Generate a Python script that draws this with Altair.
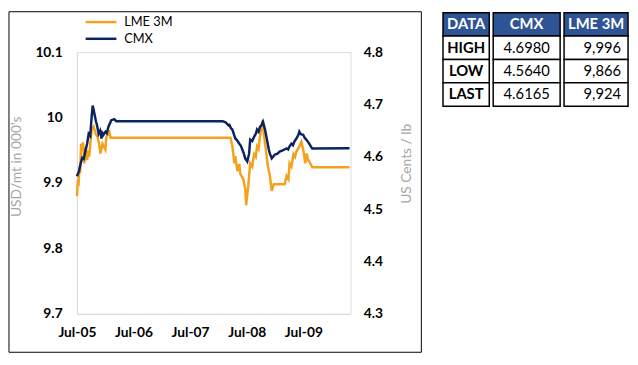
import altair as alt
import pandas as pd

# ---------------- data ----------------
cmx_dates = [
    "2005-07-01", "2005-07-14", "2005-07-26", "2005-08-05", "2005-08-14",
    "2005-08-27", "2005-09-05", "2005-09-15", "2005-09-25", "2005-10-04",
    "2005-10-11", "2005-10-17", "2005-10-23", "2005-11-01", "2005-11-08",
    "2005-11-18", "2005-11-28", "2005-12-07", "2005-12-13", "2005-12-19",
    "2006-01-01", "2006-01-10", "2006-01-20", "2006-02-08", "2006-02-27",
    "2006-03-12", "2008-01-27", "2008-02-15", "2008-03-05", "2008-03-11",
    "2008-03-22", "2008-03-30", "2008-04-08", "2008-04-18", "2008-04-28",
    "2008-05-14", "2008-05-24", "2008-06-02", "2008-06-12", "2008-06-21",
    "2008-07-04", "2008-07-16", "2008-07-23", "2008-08-05", "2008-08-17",
    "2008-08-28", "2008-09-05", "2008-09-15", "2008-09-24", "2008-10-03",
    "2008-10-13", "2008-10-26", "2008-11-08", "2008-11-20", "2008-11-27",
    "2008-12-09", "2008-12-28", "2009-01-15", "2009-01-29", "2009-02-14",
    "2009-03-02", "2009-03-15", "2009-03-25", "2009-04-03", "2009-04-15",
    "2009-04-25", "2009-05-04", "2009-05-15", "2009-05-30", "2009-06-05",
    "2009-06-15", "2009-06-30", "2009-07-10", "2009-07-20", "2009-08-01",
    "2009-08-08", "2009-08-18", "2009-08-27", "2010-04-25",
]
cmx_values = [
    4.563, 4.572, 4.588, 4.598, 4.596,
    4.614, 4.625, 4.644, 4.640, 4.676,
    4.698, 4.690, 4.681, 4.668, 4.660,
    4.644, 4.650, 4.635, 4.645, 4.642,
    4.648, 4.645, 4.657, 4.670, 4.672,
    4.668, 4.668, 4.666, 4.660, 4.661,
    4.654, 4.652, 4.644, 4.635, 4.632,
    4.625, 4.621, 4.614, 4.606, 4.597,
    4.591, 4.606, 4.633, 4.630, 4.638,
    4.644, 4.652, 4.648, 4.657, 4.660,
    4.667, 4.653, 4.633, 4.614, 4.606,
    4.597, 4.604, 4.606, 4.610, 4.612,
    4.614, 4.616, 4.614, 4.620, 4.625,
    4.622, 4.629, 4.634, 4.642, 4.648,
    4.643, 4.642, 4.636, 4.633, 4.628,
    4.625, 4.620, 4.616, 4.6165,
]

lme_dates = [
    "2005-07-01", "2005-07-08", "2005-07-11", "2005-07-18", "2005-07-22",
    "2005-07-28", "2005-08-03", "2005-08-09", "2005-08-18", "2005-08-27",
    "2005-09-05", "2005-09-12", "2005-09-18", "2005-09-28", "2005-10-04",
    "2005-10-17", "2005-10-30", "2005-11-11", "2005-11-24", "2005-11-30",
    "2005-12-13", "2006-01-01", "2006-01-07", "2006-01-27", "2006-02-03",
    "2008-03-18", "2008-03-30", "2008-04-12", "2008-04-18", "2008-05-01",
    "2008-05-14", "2008-05-20", "2008-06-08", "2008-06-21", "2008-06-27",
    "2008-07-10", "2008-07-23", "2008-08-05", "2008-08-17", "2008-08-28",
    "2008-09-05", "2008-09-15", "2008-09-24", "2008-10-13", "2008-10-19",
    "2008-11-01", "2008-11-14", "2008-11-27", "2008-12-09", "2008-12-22",
    "2009-03-02", "2009-03-15", "2009-03-27", "2009-04-03", "2009-04-15",
    "2009-04-28", "2009-05-08", "2009-05-17", "2009-06-05", "2009-06-18",
    "2009-06-30", "2009-07-13", "2009-07-22", "2009-08-01", "2009-08-08",
    "2009-08-27", "2010-04-25",
]
lme_values = [
    9.880, 9.905, 9.895, 9.925, 9.915,
    9.960, 9.950, 9.962, 9.930, 9.955,
    9.935, 9.950, 9.940, 9.966, 9.981,
    9.986, 9.975, 9.971, 9.956, 9.945,
    9.960, 9.951, 9.971, 9.978, 9.969,
    9.969, 9.956, 9.930, 9.941, 9.918,
    9.929, 9.914, 9.906, 9.891, 9.866,
    9.895, 9.930, 9.925, 9.944, 9.940,
    9.956, 9.952, 9.971, 9.996, 9.975,
    9.951, 9.926, 9.911, 9.888, 9.898,
    9.898, 9.911, 9.906, 9.930, 9.925,
    9.944, 9.940, 9.948, 9.956, 9.963,
    9.951, 9.930, 9.945, 9.935, 9.933,
    9.924, 9.924,
]

tick_years = [2005, 2006, 2007, 2008, 2009]
left_ticks = [9.7, 9.8, 9.9, 10.0, 10.1]
right_ticks = [4.3, 4.4, 4.5, 4.6, 4.7, 4.8]
series_names = ["LME 3M", "CMX"]

table_header = ["DATA", "CMX", "LME 3M"]
table_rows = ["HIGH", "LOW", "LAST"]
cmx_stats = ["4.6980", "4.5640", "4.6165"]
lme_stats = ["9,996", "9,866", "9,924"]

# ---------------- styles ----------------
ORANGE = "#F4A11C"
NAVY = "#0A2362"
HEAD = "#2F5496"
AXIS_GRAY = "#D9D9D9"
TITLE_GRAY = "#A6A6A6"
FONT = "Lato"

lme_df = pd.DataFrame({"date": lme_dates, "value": lme_values, "series": series_names[0]})
cmx_df = pd.DataFrame({"date": cmx_dates, "value": cmx_values, "series": series_names[1]})

color = alt.Color(
    "series:N",
    scale=alt.Scale(domain=series_names, range=[ORANGE, NAVY]),
    legend=alt.Legend(
        title=None, orient="none", legendX=18, legendY=-37,
        symbolType="M-5,0H5", symbolSize=39, symbolStrokeWidth=2.5,
        labelFont=FONT, labelFontSize=13, labelColor="#000000",
        rowPadding=3, labelOffset=17, padding=0,
    ),
)

x_enc = alt.X(
    "date:T",
    scale=alt.Scale(
        type="utc", nice=False,
        domain=[alt.DateTime(year=2005, month=7, date=1, utc=True),
                alt.DateTime(year=2010, month=5, date=1, utc=True)],
    ),
    axis=alt.Axis(
        title=None, orient="bottom",
        values=[alt.DateTime(year=y, month=7, date=1, utc=True) for y in tick_years],
        format="%b-%y", grid=False, ticks=False, domainColor=AXIS_GRAY,
        labelFont=FONT, labelFontSize=14, labelFontWeight="bold", labelColor="#000000",
        labelPadding=12, labelOverlap=False, labelFlush=False,
    ),
)

border = alt.Chart(pd.DataFrame({"k": [0]})).mark_rect(
    fillOpacity=0, stroke="#000000", strokeWidth=1
).encode(
    x=alt.value(-69), x2=alt.value(350), y=alt.value(-41), y2=alt.value(305)
)

lme_line = alt.Chart(lme_df).mark_line(strokeWidth=2.5).encode(
    x=x_enc,
    y=alt.Y(
        "value:Q",
        scale=alt.Scale(domain=[9.7, 10.1], nice=False, zero=False),
        axis=alt.Axis(
            orient="left", title="USD/mt in 000's", values=left_ticks, format=".1~f",
            grid=False, ticks=False, domainColor=AXIS_GRAY,
            labelFont=FONT, labelFontSize=14, labelFontWeight="bold", labelColor="#000000",
            labelPadding=15,
            titleFont=FONT, titleFontSize=14, titleFontWeight="normal", titleColor=TITLE_GRAY,
            titleAngle=-90, titleX=-61, titleY=116, titleAlign="center", titleBaseline="middle",
        ),
    ),
    color=color,
)

cmx_line = alt.Chart(cmx_df).mark_line(strokeWidth=2.5).encode(
    x=x_enc,
    y=alt.Y(
        "value:Q",
        scale=alt.Scale(domain=[4.3, 4.8], nice=False, zero=False),
        axis=alt.Axis(
            orient="right", title="US Cents / lb", values=right_ticks, format=".1f",
            grid=False, ticks=False, domain=False,
            labelFont=FONT, labelFontSize=14, labelFontWeight="bold", labelColor="#000000",
            labelPadding=13,
            titleFont=FONT, titleFontSize=14, titleFontWeight="normal", titleColor=TITLE_GRAY,
            titleAngle=-90, titleX=57, titleY=113, titleAlign="center", titleBaseline="middle",
        ),
    ),
    color=color,
)

main = alt.layer(border, lme_line, cmx_line).resolve_scale(y="independent").properties(
    width=278, height=266
)


def table_column(header, cells, width, align, bold):
    df = pd.DataFrame({
        "row": ["head"] + table_rows,
        "text": [header] + cells,
        "kind": ["head", "cell", "cell", "cell"],
    })
    y = alt.Y("row:N", sort=["head"] + table_rows, axis=None,
              scale=alt.Scale(paddingInner=0, paddingOuter=0, range=[-40, 55]))
    rect = alt.Chart(df).mark_rect(stroke="#000000", strokeWidth=1.5).encode(
        x=alt.value(0), x2=alt.value(width), y=y,
        fill=alt.Fill("kind:N", scale=alt.Scale(domain=["head", "cell"], range=[HEAD, "#FFFFFF"]),
                      legend=None),
    )
    head_txt = alt.Chart(df).transform_filter("datum.kind == 'head'").mark_text(
        font=FONT, fontSize=15, fontWeight="bold", color="#FFFFFF"
    ).encode(y=y, text="text:N")
    if align == "right":
        cell_txt = alt.Chart(df).transform_filter("datum.kind == 'cell'").mark_text(
            font=FONT, fontSize=15, fontWeight="bold" if bold else "normal",
            color="#000000", align="right"
        ).encode(x=alt.value(width - 7), y=y, text="text:N")
    else:
        cell_txt = alt.Chart(df).transform_filter("datum.kind == 'cell'").mark_text(
            font=FONT, fontSize=15, fontWeight="bold" if bold else "normal",
            color="#000000", align="center"
        ).encode(y=y, text="text:N")
    return alt.layer(rect, head_txt, cell_txt).properties(width=width, height=55)


table = alt.hconcat(
    table_column(table_header[0], table_rows, 47, "center", True),
    table_column(table_header[1], cmx_stats, 68, "center", False),
    table_column(table_header[2], lme_stats, 65, "right", False),
    spacing=0,
)

chart = alt.hconcat(main, table, spacing=19).properties(
    padding=0
).configure_view(strokeWidth=0).configure(background="#FFFFFF")

chart.save("out.html", embed_options={"renderer": "svg", "actions": False})
